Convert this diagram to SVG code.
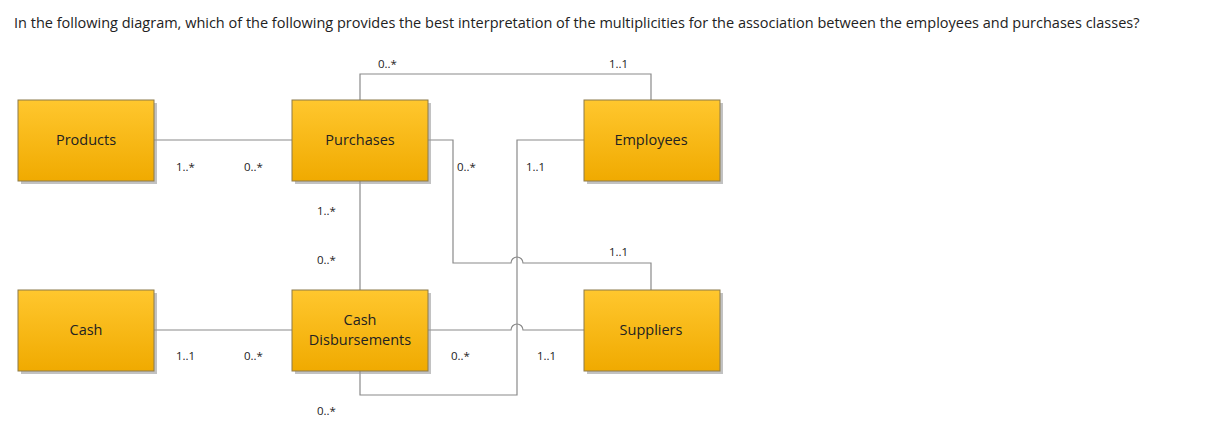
<svg xmlns="http://www.w3.org/2000/svg" width="1232" height="430" viewBox="0 0 1232 430">
<style>
text{font-family:"Open Sans","Liberation Sans",sans-serif;fill:#222}
.q{font-size:14.5px}
.n{font-size:14.5px;text-anchor:middle}
.m{font-size:11.5px}
.box{fill:url(#g);stroke:#8c7a4a;stroke-width:1}
.sh{fill:#9a9a9a;opacity:.6}
.c{fill:none;stroke:#8a8a8a;stroke-width:1.2}
</style>
<defs><linearGradient id="g" x1="0" y1="0" x2="0" y2="1"><stop offset="0" stop-color="#ffc72e"/><stop offset="1" stop-color="#f0aa00"/></linearGradient></defs>
<rect width="1232" height="430" fill="#fff"/>
<text class="q" x="14" y="28">In the following diagram, which of the following provides the best interpretation of the multiplicities for the association between the employees and purchases classes?</text>
<g id="connectors">
<path class="c" d="M360 100V74H651V100"/>
<path class="c" d="M154 140H292"/>
<path class="c" d="M154 330H292"/>
<path class="c" d="M360 181V290"/>
<path class="c" d="M428 140H453V263H511A6 6 0 0 1 523 263H651V290"/>
<path class="c" d="M584 140H517V395H360V370"/>
<path class="c" d="M428 330H511A6 6 0 0 1 523 330H584"/>
</g>
<g id="products"><rect class="sh" x="21" y="103" width="136" height="81"/><rect class="box" x="18" y="100" width="136" height="81"/><text class="n" x="86" y="145">Products</text></g>
<g id="purchases"><rect class="sh" x="295" y="103" width="136" height="81"/><rect class="box" x="292" y="100" width="136" height="81"/><text class="n" x="360" y="145">Purchases</text></g>
<g id="employees"><rect class="sh" x="587" y="103" width="136" height="81"/><rect class="box" x="584" y="100" width="136" height="81"/><text class="n" x="651" y="145">Employees</text></g>
<g id="cash"><rect class="sh" x="21" y="293" width="136" height="81"/><rect class="box" x="18" y="290" width="136" height="81"/><text class="n" x="86" y="335">Cash</text></g>
<g id="cashdisb"><rect class="sh" x="295" y="293" width="136" height="81"/><rect class="box" x="292" y="290" width="136" height="81"/><text class="n" x="360" y="325">Cash</text><text class="n" x="360" y="345">Disbursements</text></g>
<g id="suppliers"><rect class="sh" x="587" y="293" width="136" height="81"/><rect class="box" x="584" y="290" width="136" height="81"/><text class="n" x="651" y="335">Suppliers</text></g>
<g id="labels">
<text class="m" x="378" y="68">0..*</text>
<text class="m" x="609" y="68">1..1</text>
<text class="m" x="176" y="171">1..*</text>
<text class="m" x="244" y="171">0..*</text>
<text class="m" x="457" y="171">0..*</text>
<text class="m" x="526" y="171">1..1</text>
<text class="m" x="317" y="215">1..*</text>
<text class="m" x="317" y="264">0..*</text>
<text class="m" x="609" y="256">1..1</text>
<text class="m" x="176" y="360">1..1</text>
<text class="m" x="244" y="360">0..*</text>
<text class="m" x="451" y="360">0..*</text>
<text class="m" x="537" y="360">1..1</text>
<text class="m" x="317" y="415">0..*</text>
</g>
</svg>
